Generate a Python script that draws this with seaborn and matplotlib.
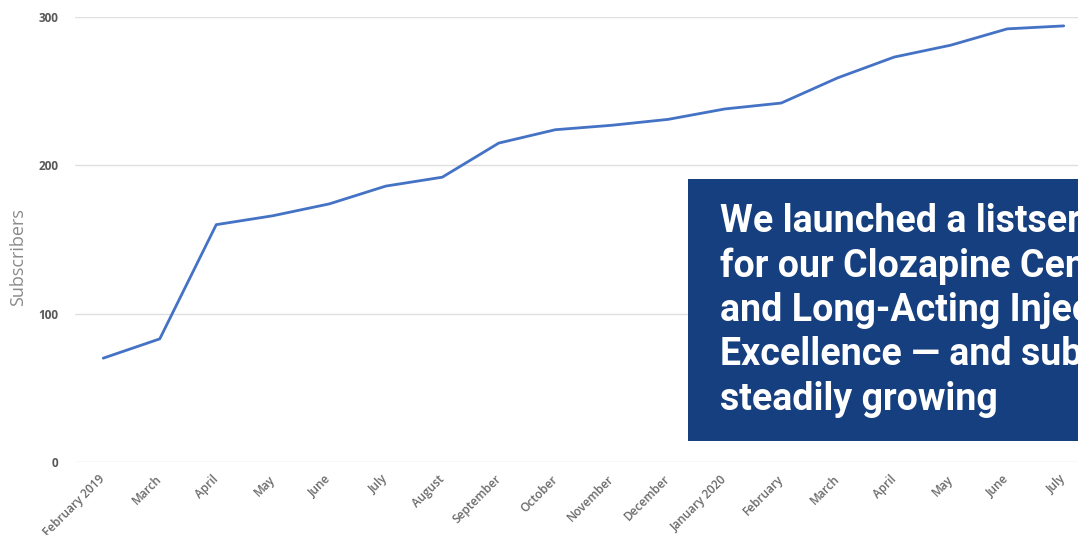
import matplotlib
matplotlib.use("Agg")
import matplotlib.pyplot as plt
import seaborn as sns
import pandas as pd
import numpy as np

months = ["February 2019", "March", "April", "May", "June", "July", "August",
          "September", "October", "November", "December", "January 2020",
          "February", "March", "April", "May", "June", "July"]
subscribers = [70, 83, 160, 166, 174, 186, 192, 215, 224, 227, 231, 238,
               242, 259, 273, 281, 292, 294]
y_ticks = [0, 100, 200, 300]
note = ("We launched a listserv\nfor our Clozapine Center\n"
        "and Long-Acting Injectable\nExcellence \u2014 and subscribers are\n"
        "steadily growing")

sns.set_theme(style="white")
plt.rcParams['font.family'] = ['Open Sans', 'DejaVu Sans']

df = pd.DataFrame({"idx": np.arange(len(months)), "Subscribers": subscribers})

W, H = 1078, 535
fig = plt.figure(figsize=(W / 100, H / 100), dpi=100)
ax = fig.add_axes([75 / W, (H - 462) / H, (1092 - 75) / W, 445 / H])

sns.lineplot(data=df, x="idx", y="Subscribers", ax=ax, color="#4472C4",
             linewidth=2.0, zorder=3)

ax.set_xlim(-0.5, len(months) - 0.5)
ax.set_ylim(0, 300)
ax.set_yticks(y_ticks)
ax.set_yticklabels([str(v) for v in y_ticks], fontsize=8.5, fontweight="bold",
                   color="#595959")
ax.set_xticks(np.arange(len(months)))
ax.set_xticklabels(months, rotation=45, ha="right", va="center",
                   rotation_mode="anchor", fontsize=8.5, fontweight="semibold",
                   color="#6a6a6a")
ax.tick_params(axis="both", length=0)
ax.tick_params(axis="y", pad=12)
ax.tick_params(axis="x", pad=11)
ax.yaxis.grid(True, color="#e0e0e0", linewidth=1)
ax.xaxis.grid(False)
for s in ax.spines.values():
    s.set_visible(False)
ax.set_xlabel("")
ax.set_ylabel("")
fig.text(18 / W, (H - 257) / H, "Subscribers", rotation=90, fontsize=13,
         color="#8a8a8a", ha="center", va="center")

# annotation box
fig.patches.append(plt.Rectangle((688 / W, (H - 441) / H), (1100 - 688) / W,
                                 (441 - 179) / H, transform=fig.transFigure,
                                 facecolor="#163F7F", edgecolor="none",
                                 zorder=5))
fig.text(720 / W, (H - 203) / H, note, transform=fig.transFigure,
         fontsize=27, fontweight="bold", family=["Roboto", "DejaVu Sans"],
         color="white", ha="left", va="top", linespacing=1.25, zorder=6)

fig.savefig("out.png", dpi=100)
